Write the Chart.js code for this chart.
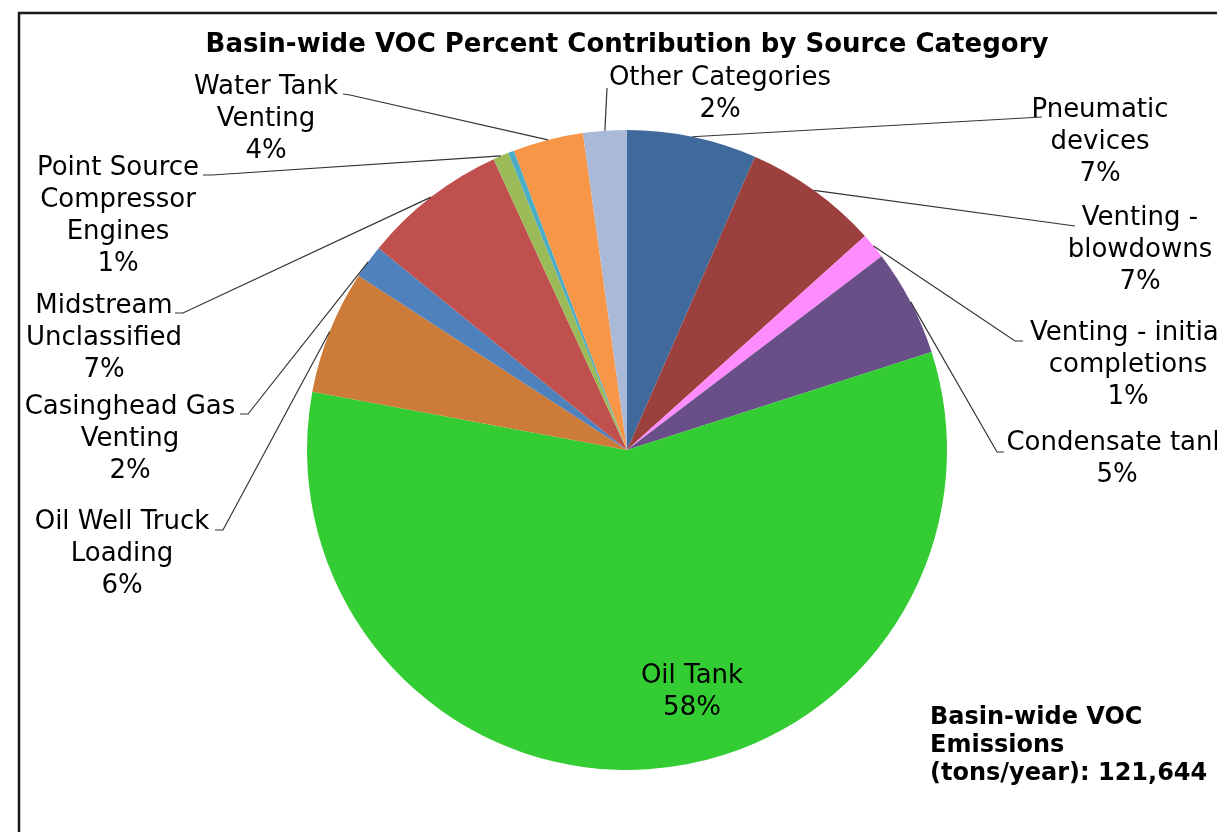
<!DOCTYPE html>
<html>
<head>
<meta charset="utf-8">
<title>Basin-wide VOC Percent Contribution by Source Category</title>
<script src="https://cdn.jsdelivr.net/npm/chart.js@4/dist/chart.umd.min.js"></script>
<style>
  html, body { margin: 0; padding: 0; background: #fff; overflow: hidden; }
  canvas { display: block; }
</style>
</head>
<body>
<canvas id="vocChart" width="1217" height="832"></canvas>
<script>
// source categories, clockwise from 12 o'clock ('\n' = where the label wraps)
const categories = [
    'Pneumatic\ndevices',
    'Venting -\nblowdowns',
    'Venting - initial\ncompletions',
    'Condensate tank',
    'Oil Tank',
    'Oil Well Truck\nLoading',
    'Casinghead Gas\nVenting',
    'Midstream\nUnclassified',
    'Point Source\nCompressor\nEngines',
    '',
    'Water Tank\nVenting',
    'Other Categories'
];
// share of basin-wide VOC emissions (percent)
const shares = [6.55, 6.8, 1.3, 5.4, 57.9, 6.25, 1.7, 7.3, 0.8, 0.3, 3.55, 2.2];
const sliceColors = [
    '#3F6A9B', '#9C403E', '#FF8CFF', '#694F87', '#33CC33', '#CD7B38',
    '#4F81BD', '#C0504D', '#9BBB59', '#4BACC6', '#F79646', '#AAB9D8'
];
const chartTitle = 'Basin-wide VOC Percent Contribution by Source Category';
const totalNote = ['Basin-wide VOC', 'Emissions', '(tons/year): 121,644'];

// where each label sits (text centre x, first line y) and where its leader line ends
const labelLayout = [
    { x: 1100, y: 110, end: [1042, 117] },
    { x: 1140, y: 218, end: [1075, 226] },
    { x: 1128, y: 333, elbow: [1015, 341], end: [1023, 341] },
    { x: 1117, y: 443, elbow: [997, 452], end: [1004, 452] },
    { x: 692, y: 676 },
    { x: 122, y: 522, elbow: [223, 530], end: [215, 530] },
    { x: 130, y: 407, elbow: [248, 414], end: [240, 414] },
    { x: 104, y: 306, elbow: [183, 313], end: [175, 313] },
    { x: 118, y: 168, elbow: [212, 175], end: [203, 175] },
    null,
    { x: 266, y: 87, elbow: [350, 95], end: [343, 94] },
    { x: 720, y: 78, end: [607, 88] }
];

const FONT = '"DejaVu Sans", Verdana, sans-serif';

const pieDecor = {
    id: 'pieDecor',
    afterDraw(chart) {
        const ctx = chart.ctx;
        const arcs = chart.getDatasetMeta(0).data;
        const total = shares.reduce((a, b) => a + b, 0);

        ctx.save();
        // frame (right and bottom edges run off the picture)
        ctx.strokeStyle = '#1a1a1a';
        ctx.lineWidth = 2.5;
        ctx.beginPath();
        ctx.moveTo(19, 840);
        ctx.lineTo(19, 13);
        ctx.lineTo(1230, 13);
        ctx.stroke();

        // title
        ctx.fillStyle = '#000';
        ctx.font = 'bold 26px ' + FONT;
        ctx.textAlign = 'center';
        ctx.textBaseline = 'middle';
        ctx.fillText(chartTitle, 627, 45);

        // leader lines, from the middle of each slice's outer edge
        ctx.strokeStyle = '#333';
        ctx.lineWidth = 1.2;
        arcs.forEach((arc, i) => {
            const lay = labelLayout[i];
            if (!lay || !lay.end) return;
            const p = arc.getProps(['x', 'y', 'startAngle', 'endAngle', 'outerRadius'], true);
            const mid = (p.startAngle + p.endAngle) / 2;
            ctx.beginPath();
            ctx.moveTo(p.x + Math.cos(mid) * p.outerRadius, p.y + Math.sin(mid) * p.outerRadius);
            if (lay.elbow) ctx.lineTo(lay.elbow[0], lay.elbow[1]);
            ctx.lineTo(lay.end[0], lay.end[1]);
            ctx.stroke();
        });

        // data labels: name + percent
        ctx.font = '26px ' + FONT;
        ctx.fillStyle = '#000';
        categories.forEach((name, i) => {
            const lay = labelLayout[i];
            if (!lay || !name) return;
            const lines = name.split('\n');
            lines.push(Math.round(shares[i] / total * 100) + '%');
            lines.forEach((ln, k) => ctx.fillText(ln, lay.x, lay.y + k * 32));
        });

        // total emissions note
        ctx.font = 'bold 24px ' + FONT;
        ctx.textAlign = 'left';
        totalNote.forEach((ln, k) => ctx.fillText(ln, 930, 718 + k * 28));
        ctx.restore();
    }
};

new Chart(document.getElementById('vocChart'), {
    type: 'pie',
    data: {
        labels: categories.map(c => c.replace(/\n/g, ' ')),
        datasets: [{
            data: shares,
            backgroundColor: sliceColors,
            borderWidth: 0
        }]
    },
    options: {
        responsive: false,
        animation: false,
        layout: { padding: { left: 307, right: 270, top: 130, bottom: 62 } },
        plugins: {
            legend: { display: false },
            tooltip: { enabled: false },
            title: { display: false }
        }
    },
    plugins: [pieDecor]
});
</script>
</body>
</html>
